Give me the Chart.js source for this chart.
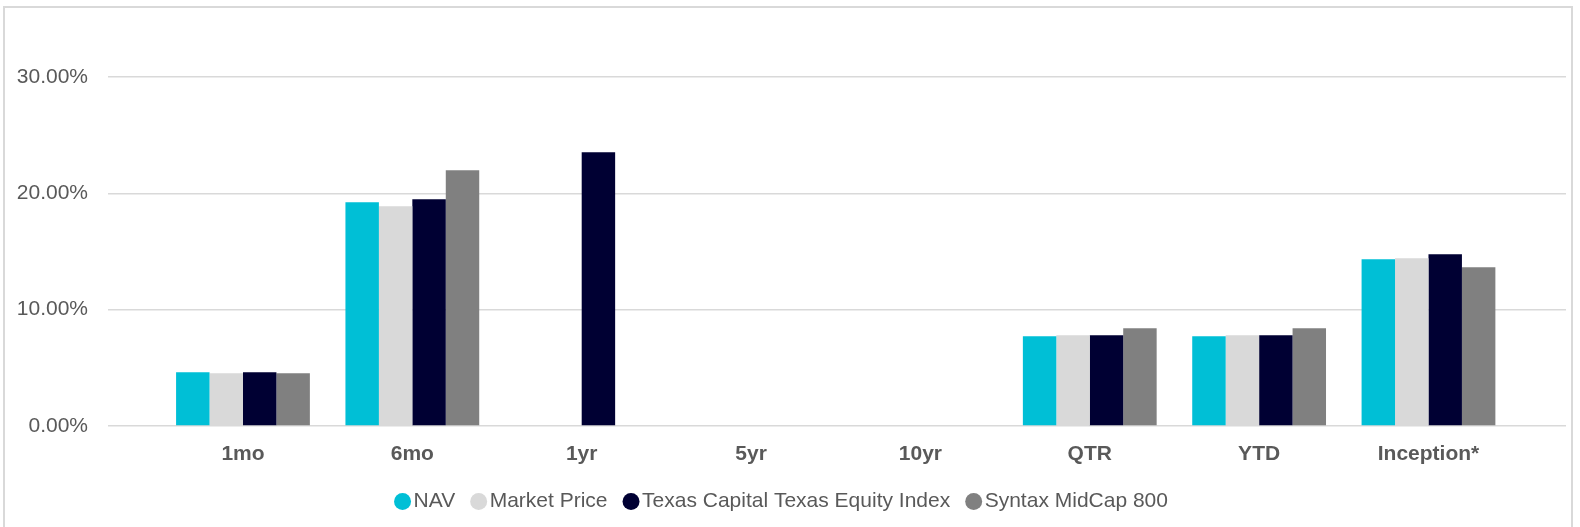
<!DOCTYPE html>
<html>
<head>
<meta charset="utf-8">
<script src="https://cdn.jsdelivr.net/npm/chart.js@4.4.1/dist/chart.umd.min.js"></script>
<style>
  html, body { margin: 0; padding: 0; background: #ffffff; overflow: hidden; }
  #frame { position: absolute; left: 3px; top: 6px; width: 1570px; height: 600px; box-sizing: border-box; border: 2px solid #d9d9d9; }
  #wrap { position: absolute; left: 0; top: 0; width: 1580px; height: 527px; }
</style>
</head>
<body>
<div id="frame"></div>
<div id="wrap"><canvas id="c" width="1580" height="527"></canvas></div>
<script>
const categories = ['1mo', '6mo', '1yr', '5yr', '10yr', 'QTR', 'YTD', 'Inception*'];
const navValues = [4.62, 19.23, null, null, null, 7.71, 7.71, 14.33];
const marketPriceValues = [4.53, 18.90, null, null, null, 7.80, 7.80, 14.42];
const texasIndexValues = [4.62, 19.49, 23.53, null, null, 7.80, 7.80, 14.76];
const syntaxValues = [4.53, 21.99, null, null, null, 8.40, 8.40, 13.65];
const seriesNames = ['NAV', 'Market Price', 'Texas Capital Texas Equity Index', 'Syntax MidCap 800'];
const yTicks = { min: 0, max: 30, step: 10 };
const xRange = { min: -0.797, max: 7.812 };

const colors = ['#00bfd6', '#d9d9d9', '#000033', '#808080'];
const gridColor = '#d9d9d9';
const textColor = '#595959';
const fontFamily = '"Liberation Sans", Arial, sans-serif';

const seriesValues = [navValues, marketPriceValues, texasIndexValues, syntaxValues];
const datasets = seriesValues.map((vals, i) => ({
  label: seriesNames[i],
  data: vals.map((v, j) => ({ x: j, y: v })),
  backgroundColor: colors[i],
  borderWidth: 0,
  categoryPercentage: 0.79,
  barPercentage: 1.0
}));

Chart.defaults.font.family = fontFamily;
Chart.defaults.color = textColor;

new Chart(document.getElementById('c'), {
  type: 'bar',
  data: { datasets },
  options: {
    responsive: false,
    animation: false,
    devicePixelRatio: 1,
    layout: { padding: { top: 77, left: 4, right: 14, bottom: 5 } },
    plugins: {
      tooltip: { enabled: false },
      legend: {
        position: 'bottom',
        labels: {
          usePointStyle: true,
          pointStyle: 'circle',
          boxWidth: 1,
          boxHeight: 12,
          padding: 23,
          color: textColor,
          font: { size: 21, family: fontFamily }
        }
      }
    },
    scales: {
      x: {
        type: 'linear',
        min: xRange.min,
        max: xRange.max,
        offset: false,
        grid: { display: false, drawTicks: false },
        border: { display: false },
        afterFit: (s) => { s.height = 42; },
        afterBuildTicks: (s) => { s.ticks = categories.map((c, i) => ({ value: i })); },
        ticks: {
          padding: 16,
          autoSkip: false,
          color: textColor,
          font: { size: 21, weight: 'bold', family: fontFamily },
          maxRotation: 0,
          callback: (v) => categories[v] ?? ''
        }
      },
      y: {
        position: 'left',
        min: yTicks.min,
        max: yTicks.max,
        border: { display: false },
        afterFit: (s) => { s.width = 104; },
        grid: { color: gridColor, lineWidth: 1.5, drawTicks: false },
        ticks: {
          stepSize: yTicks.step,
          padding: 20,
          color: textColor,
          font: { size: 21, family: fontFamily },
          callback: (v) => v.toFixed(2) + '%'
        }
      }
    }
  }
});
</script>
</body>
</html>
